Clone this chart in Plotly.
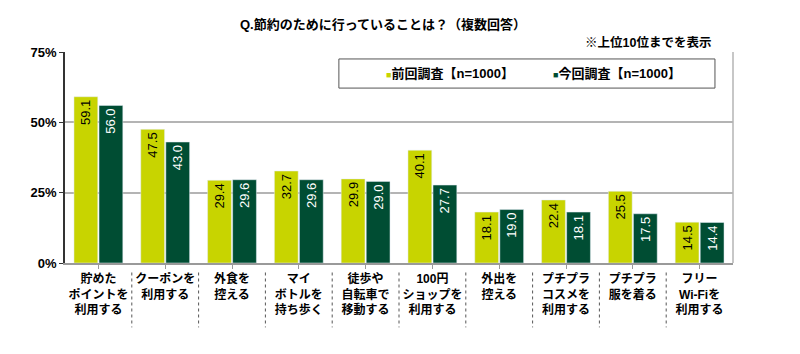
import plotly.graph_objects as go

categories = [
    "貯めた<br>ポイントを<br>利用する",
    "クーポンを<br>利用する",
    "外食を<br>控える",
    "マイ<br>ボトルを<br>持ち歩く",
    "徒歩や<br>自転車で<br>移動する",
    "100円<br>ショップを<br>利用する",
    "外出を<br>控える",
    "プチプラ<br>コスメを<br>利用する",
    "プチプラ<br>服を着る",
    "フリー<br>Wi-Fiを<br>利用する",
]
prev_values = [59.1, 47.5, 29.4, 32.7, 29.9, 40.1, 18.1, 22.4, 25.5, 14.5]
curr_values = [56.0, 43.0, 29.6, 29.6, 29.0, 27.7, 19.0, 18.1, 17.5, 14.4]
series_names = ["前回調査【n=1000】", "今回調査【n=1000】"]
y_ticks = [0, 25, 50, 75]

LIME = "#c8d400"
DARK = "#004d33"
FONT = "Liberation Sans, Noto Sans CJK JP, sans-serif"

x_idx = list(range(len(categories)))

fig = go.Figure()
fig.add_trace(go.Bar(
    x=x_idx, y=prev_values, name=series_names[0], marker_color=LIME,
    text=[f"{v:.1f}" for v in prev_values], textposition="inside",
    insidetextanchor="end", textangle=-90,
    insidetextfont=dict(color="black", size=13, family=FONT),
    showlegend=False,
))
fig.add_trace(go.Bar(
    x=x_idx, y=curr_values, name=series_names[1], marker_color=DARK,
    text=[f"{v:.1f}" for v in curr_values], textposition="inside",
    insidetextanchor="end", textangle=-90,
    insidetextfont=dict(color="white", size=13, family=FONT),
    showlegend=False,
))

shapes = []
# plot frame (top/right grey)
shapes.append(dict(type="line", xref="paper", yref="paper", x0=1, x1=1, y0=0, y1=1,
                   line=dict(color="#b4b4b4", width=1.5)))
# dotted separators between category labels
for i in range(len(categories) - 1):
    shapes.append(dict(type="line", xref="x", yref="paper", x0=i + 0.5, x1=i + 0.5,
                       y0=-0.045, y1=-0.305, line=dict(color="#555555", width=1, dash="dot")))
# legend box
shapes.append(dict(type="rect", xref="paper", yref="paper", x0=0.410, x1=0.973, y0=0.829, y1=0.967,
                   line=dict(color="#555555", width=1), fillcolor="white", layer="below"))

annotations = [
    dict(text="<b>Q.節約のために行っていることは？（複数回答）</b>", xref="paper", yref="paper",
         x=0.476, y=1.128, xanchor="center", yanchor="middle", showarrow=False,
         font=dict(size=13, color="black", family=FONT)),
    dict(text="<b>※上位10位までを表示</b>", xref="paper", yref="paper",
         x=0.970, y=1.047, xanchor="right", yanchor="middle", showarrow=False,
         font=dict(size=12.5, color="black", family=FONT)),
    dict(text=f'<span style="color:{LIME};font-size:9px">■</span><b>{series_names[0]}</b>',
         xref="paper", yref="paper", x=0.4775, y=0.898, xanchor="left", yanchor="middle",
         showarrow=False, font=dict(size=13, color="black", family=FONT)),
    dict(text=f'<span style="color:{DARK};font-size:9px">■</span><b>{series_names[1]}</b>',
         xref="paper", yref="paper", x=0.7275, y=0.898, xanchor="left", yanchor="middle",
         showarrow=False, font=dict(size=13, color="black", family=FONT)),
]

fig.update_layout(
    width=800, height=354,
    margin=dict(l=65, r=67, t=52, b=91),
    paper_bgcolor="white", plot_bgcolor="white",
    barmode="group", bargap=0.25, bargroupgap=0.05,
    font=dict(family=FONT, color="black"),
    shapes=shapes, annotations=annotations,
    uniformtext=dict(mode=False),
)
fig.update_xaxes(
    range=[-0.5, len(categories) - 0.5],
    tickmode="array", tickvals=x_idx, ticktext=[f"<b>{c}</b>" for c in categories],
    tickfont=dict(size=12, color="black", family=FONT),
    showline=True, linecolor="#9a9a9a", linewidth=1.5,
    ticks="outside", ticklen=4, tickcolor="#9a9a9a", tickson="boundaries",
    showgrid=False, zeroline=False, tickangle=0,
)
fig.update_yaxes(
    range=[0, 75], tickmode="array", tickvals=y_ticks,
    ticktext=[f"<b>{v}%</b>" for v in y_ticks],
    tickfont=dict(size=13, color="black", family=FONT),
    showline=True, linecolor="#333333", linewidth=1.5,
    ticks="outside", ticklen=4, tickcolor="#333333",
    showgrid=True, gridcolor="#b4b4b4", gridwidth=1.5, zeroline=False,
)

fig.write_html("out.html")
